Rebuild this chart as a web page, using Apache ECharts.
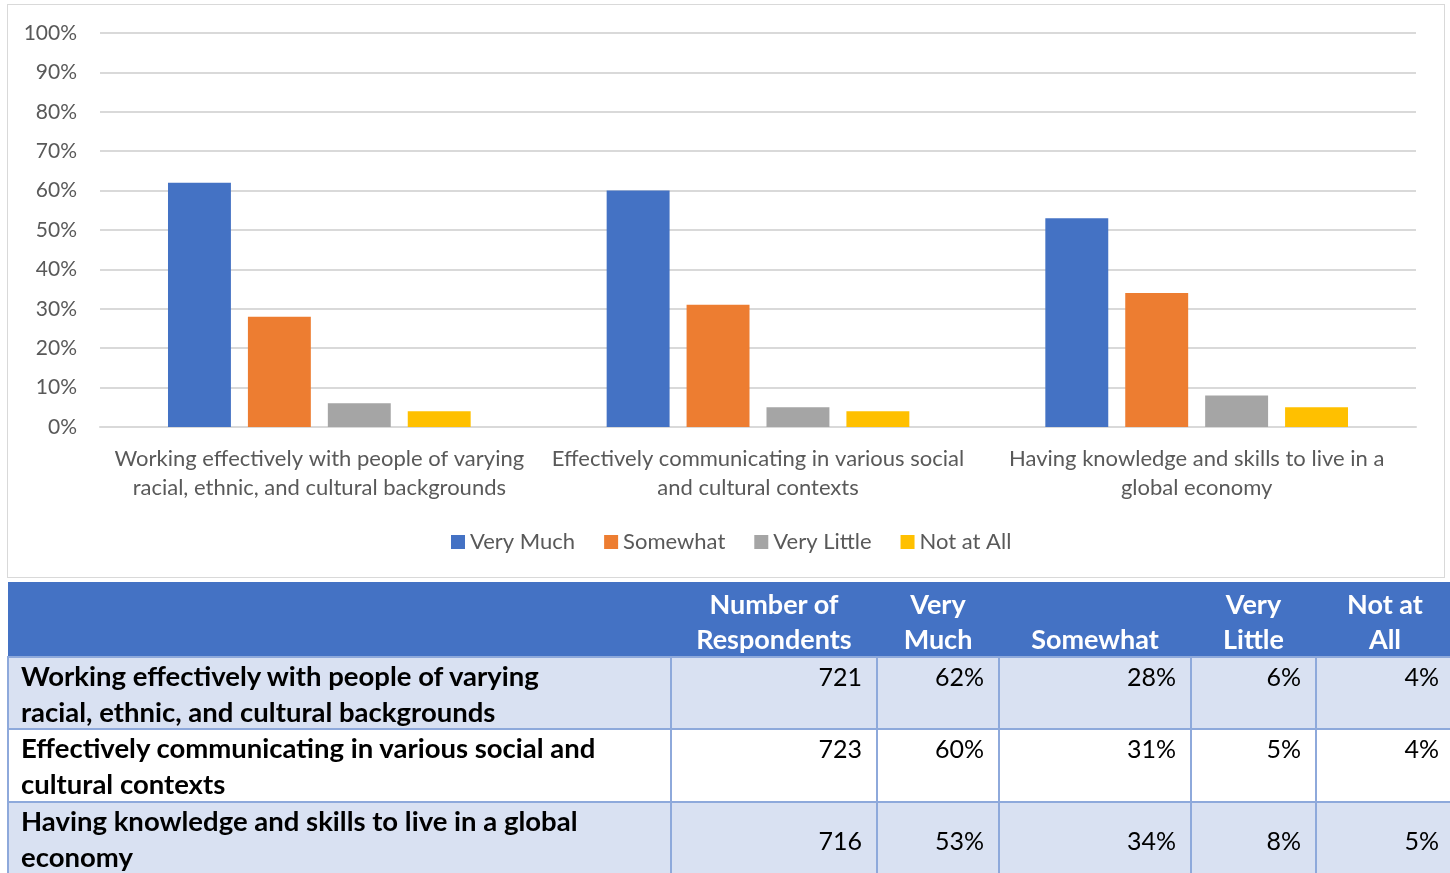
<!DOCTYPE html>
<html><head><meta charset="utf-8">
<script src="https://cdn.jsdelivr.net/npm/echarts@6/dist/echarts.min.js"></script>
<style>
html,body{margin:0;padding:0;background:#fff;}
#wrap{position:relative;width:1450px;height:873px;overflow:hidden;}
#chart{position:absolute;left:0;top:0;width:1450px;height:580px;}
#frame{position:absolute;left:7px;top:4px;width:1438px;height:574px;border:1px solid #d9d9d9;box-sizing:border-box;pointer-events:none;}
table{position:absolute;left:7px;top:582px;width:1446px;border-collapse:collapse;table-layout:fixed;font-family:Lato,"Open Sans",sans-serif;}
th{background:#4472C4;color:#fff;font-weight:bold;font-size:27px;line-height:35px;text-align:center;vertical-align:bottom;padding:2px 2px 0px 2px;border:none;height:75px;box-sizing:border-box;white-space:nowrap;}
td{border:2px solid #8EA9DB;font-size:25px;line-height:36px;color:#000;vertical-align:top;padding:0 14px 0 12px;box-sizing:border-box;white-space:nowrap;}
td div{height:36px;overflow:visible;}
td.lab{font-weight:bold;font-size:27.5px;text-align:left;}
td.lab div{height:68px;}
td.num{text-align:right;}
tr.odd td{background:#D9E1F2;}
tr.even td{background:#fff;}
tr.last td.num{padding-top:19px;}
</style></head>
<body>
<div id="wrap">
<div id="chart"></div>
<div id="frame"></div>
<table id="tbl"></table>
</div>
<script>
var categories = [
  "Working effectively with people of varying\nracial, ethnic, and cultural backgrounds",
  "Effectively communicating in various social\nand cultural contexts",
  "Having knowledge and skills to live in a\nglobal economy"
];
var rowLabels = [
  ["Working effectively with people of varying", "racial, ethnic, and cultural backgrounds"],
  ["Effectively communicating in various social and", "cultural contexts"],
  ["Having knowledge and skills to live in a global", "economy"]
];
var seriesNames = ["Very Much", "Somewhat", "Very Little", "Not at All"];
var veryMuch = [62, 60, 53];
var somewhat = [28, 31, 34];
var veryLittle = [6, 5, 8];
var notAtAll = [4, 4, 5];
var respondents = [721, 723, 716];
var headers = [[""], ["Number of", "Respondents"], ["Very", "Much"], ["Somewhat"], ["Very", "Little"], ["Not at", "All"]];

var colors = ["#4472C4", "#ED7D31", "#A5A5A5", "#FFC000"];
var allSeries = [veryMuch, somewhat, veryLittle, notAtAll];

var chart = echarts.init(document.getElementById('chart'), null, {renderer: 'canvas'});
var font = 'Lato, "Open Sans", sans-serif';
chart.setOption({
  animation: false,
  color: colors,
  textStyle: {fontFamily: font},
  grid: {left: 100, right: 34, top: 33, height: 394, containLabel: false},
  legend: {
    data: seriesNames, bottom: 22, left: 446,
    itemWidth: 14, itemHeight: 14, itemGap: 29, icon: 'rect',
    textStyle: {color: '#595959', fontSize: 22, fontFamily: font}
  },
  xAxis: {
    type: 'category', data: categories,
    axisLine: {lineStyle: {color: '#d9d9d9', width: 2}},
    axisTick: {show: false},
    axisLabel: {color: '#595959', fontSize: 22, lineHeight: 29, margin: 17, interval: 0, fontFamily: font}
  },
  yAxis: {
    type: 'value', min: 0, max: 100, interval: 10,
    axisLine: {show: false}, axisTick: {show: false},
    splitLine: {lineStyle: {color: '#d9d9d9', width: 2}},
    axisLabel: {color: '#595959', fontSize: 21, margin: 23, formatter: '{value}%', fontFamily: font}
  },
  series: allSeries.map(function (d, i) {
    return {name: seriesNames[i], type: 'bar', data: d, barGap: '27%', barCategoryGap: '31%'};
  })
});

// table
var html = '<colgroup><col style="width:663px"><col style="width:206px"><col style="width:122px"><col style="width:192px"><col style="width:125px"><col style="width:138px"></colgroup>';
html += '<tr>' + headers.map(function (h) { return '<th>' + h.join('<br>') + '</th>'; }).join('') + '</tr>';
var heights = [72, 73, 80];
for (var r = 0; r < rowLabels.length; r++) {
  var cls = (r % 2 === 0 ? 'odd' : 'even') + (r === rowLabels.length - 1 ? ' last' : '');
  html += '<tr class="' + cls + '" style="height:' + heights[r] + 'px">';
  html += '<td class="lab"><div>' + rowLabels[r].join('<br>') + '</div></td>';
  html += '<td class="num"><div>' + respondents[r] + '</div></td>';
  allSeries.forEach(function (s) { html += '<td class="num"><div>' + s[r] + '%</div></td>'; });
  html += '</tr>';
}
document.getElementById('tbl').innerHTML = html;
</script>
</body></html>
